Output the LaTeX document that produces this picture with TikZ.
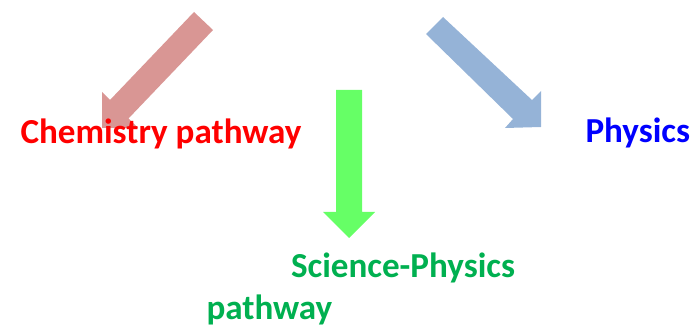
\documentclass[tikz,border=0pt]{standalone}
\usepackage{fontspec}
\setmainfont{Carlito}
\definecolor{arrred}{HTML}{D99694}
\definecolor{arrblue}{HTML}{95B3D7}
\definecolor{arrgreen}{HTML}{66FF66}
\definecolor{txtgreen}{HTML}{00B050}
\begin{document}
\begin{tikzpicture}[x=1pt,y=-1pt,
  lbl/.style={inner sep=0pt,outer sep=0pt,anchor=base west,font=\fontsize{35.1}{42}\selectfont\bfseries}]
\useasboundingbox (0,0) rectangle (693,328);
% block arrows
\fill[arrred] (194,12) -- (110,100) -- (102,92) -- (102,128) -- (138,128) -- (128.5,118.5) -- (213,30) -- cycle;
\fill[arrblue] (443,17) -- (532,100) -- (541,91) -- (541,127) -- (505,128) -- (513,119) -- (426,34) -- cycle;
\fill[arrgreen] (336,90) -- (362,90) -- (362,212) -- (375,212) -- (349,238) -- (323,212) -- (336,212) -- cycle;
% labels
\node[lbl,text=red] (chem) at (20.5,143.5) {Chemistry pathway};
\node[lbl,text=blue] (phys) at (585.5,142.5) {Physics};
\node[lbl,text=txtgreen] (sci) at (291,277.5) {Science-Physics};
\node[lbl,text=txtgreen] (path) at (206.5,320) {pathway};
\end{tikzpicture}
\end{document}
